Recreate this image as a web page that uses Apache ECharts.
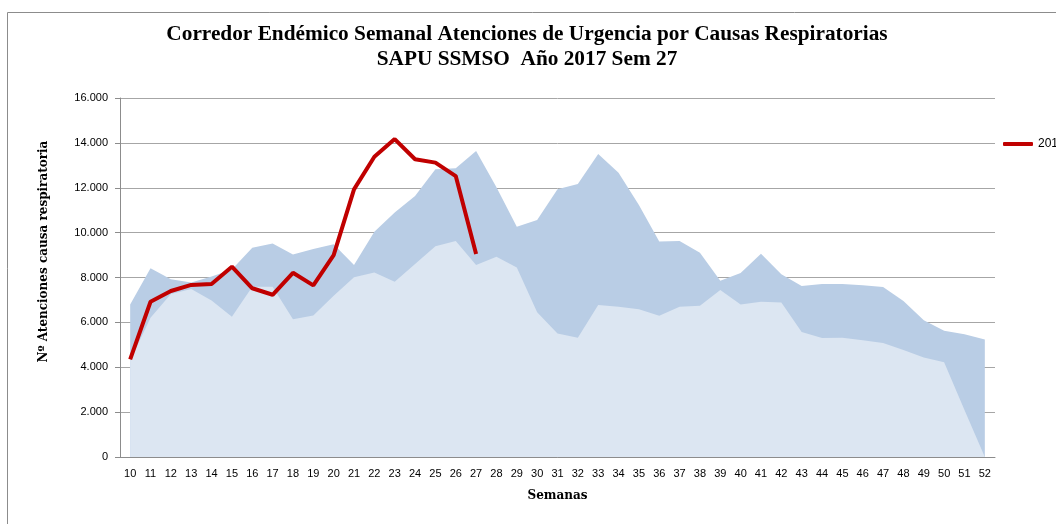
<!DOCTYPE html>
<html lang="es">
<head>
    <meta charset="UTF-8">
    <title>Corredor Endémico Semanal</title>
    <script src="https://cdn.jsdelivr.net/npm/echarts@6/dist/echarts.min.js"></script>
    <style>
        html, body { margin: 0; padding: 0; background: #fff; }
        #container { width: 1056px; height: 524px; }
    </style>
</head>
<body>
<div id="container"></div>
<script type="text/javascript">
    var weeks = ['10', '11', '12', '13', '14', '15', '16', '17', '18', '19', '20', '21', '22', '23', '24',
        '25', '26', '27', '28', '29', '30', '31', '32', '33', '34', '35', '36', '37', '38', '39', '40',
        '41', '42', '43', '44', '45', '46', '47', '48', '49', '50', '51', '52'];

    // upper limit of the corridor (dark band top)
    var upperBand = [6800, 8410, 7920, 7780, 8040, 8360, 9330, 9520, 9020, 9270, 9480, 8560, 10040, 10900,
        11630, 12820, 12870, 13640, 12020, 10260, 10560, 11930, 12170, 13500, 12670, 11230, 9610, 9630,
        9100, 7860, 8200, 9060, 8150, 7620, 7710, 7710, 7650, 7580, 6950, 6100, 5630, 5470, 5240];

    // lower limit (light area top)
    var lowerBand = [4300, 6210, 7260, 7490, 6970, 6250, 7590, 7590, 6140, 6310, 7190, 8010, 8220, 7810,
        8600, 9390, 9630, 8560, 8930, 8450, 6450, 5500, 5320, 6770, 6700, 6580, 6300, 6700, 6740, 7440,
        6800, 6920, 6890, 5570, 5300, 5320, 5200, 5080, 4770, 4430, 4220, 2100, 0];

    // current year
    var values2017 = [4350, 6920, 7400, 7670, 7710, 8480, 7520, 7230, 8210, 7650, 9000, 11930, 13380, 14170,
        13270, 13120, 12520, 9050];

    var dom = document.getElementById('container');
    var myChart = echarts.init(dom);

    var fmt = function (v) {
        return String(v).replace(/\B(?=(\d{3})+(?!\d))/g, '.');
    };

    var serif = 'DejaVu Serif';
    var sans = 'Liberation Sans';

    var option = {
        animation: false,
        backgroundColor: '#fff',
        title: {
            text: 'Corredor Endémico Semanal Atenciones de Urgencia por Causas Respiratorias\nSAPU SSMSO  Año 2017 Sem 27',
            left: 522,
            textAlign: 'center',
            top: 17,
            textStyle: {
                fontFamily: 'Liberation Serif',
                fontWeight: 'bold',
                fontSize: 21.3,
                lineHeight: 25,
                color: '#000'
            }
        },
        graphic: [{
            type: 'rect',
            shape: {x: 7.5, y: 12.5, width: 1200, height: 700},
            style: {fill: 'none', stroke: '#8c8c8c', lineWidth: 1},
            silent: true
        }],
        legend: {
            data: [{name: '2017'}],
            left: 998,
            top: 133,
            icon: 'roundRect',
            itemWidth: 30,
            itemHeight: 4,
            textStyle: {fontFamily: sans, fontSize: 12, color: '#000'}
        },
        grid: {
            left: 120,
            right: 61,
            top: 98,
            bottom: 67
        },
        xAxis: {
            type: 'category',
            data: weeks,
            boundaryGap: true,
            name: 'Semanas',
            nameLocation: 'middle',
            nameGap: 33,
            nameTextStyle: {fontFamily: serif, fontWeight: 'bold', fontSize: 12, color: '#000'},
            axisLine: {lineStyle: {color: '#8c8c8c'}},
            axisTick: {show: false},
            axisLabel: {interval: 0, fontFamily: sans, fontSize: 11, color: '#000', margin: 11}
        },
        yAxis: {
            type: 'value',
            min: 0,
            max: 16000,
            interval: 2000,
            name: 'Nº Atenciones causa respiratoria',
            nameLocation: 'middle',
            nameGap: 70,
            nameTextStyle: {
                fontFamily: serif, fontWeight: 'bold', fontSize: 12, color: '#000',
                padding: [0, 0, 0, 52]
            },
            axisLine: {show: true, lineStyle: {color: '#8c8c8c'}},
            axisTick: {show: true, length: 5, lineStyle: {color: '#8c8c8c'}},
            splitLine: {lineStyle: {color: '#a6a6a6', width: 1}},
            axisLabel: {
                fontFamily: sans, fontSize: 11, color: '#000', margin: 12,
                formatter: fmt
            }
        },
        series: [
            {
                name: 'Superior',
                type: 'line',
                data: upperBand,
                showSymbol: false,
                lineStyle: {width: 0},
                areaStyle: {color: '#b9cde5', opacity: 1},
                silent: true,
                z: 1
            },
            {
                name: 'Inferior',
                type: 'line',
                data: lowerBand,
                showSymbol: false,
                lineStyle: {width: 0},
                areaStyle: {color: '#dce6f2', opacity: 1},
                silent: true,
                z: 2
            },
            {
                name: '2017',
                type: 'line',
                data: values2017,
                showSymbol: false,
                lineStyle: {color: '#c00000', width: 4},
                itemStyle: {color: '#c00000'},
                z: 3
            }
        ]
    };

    myChart.setOption(option);
</script>
</body>
</html>
